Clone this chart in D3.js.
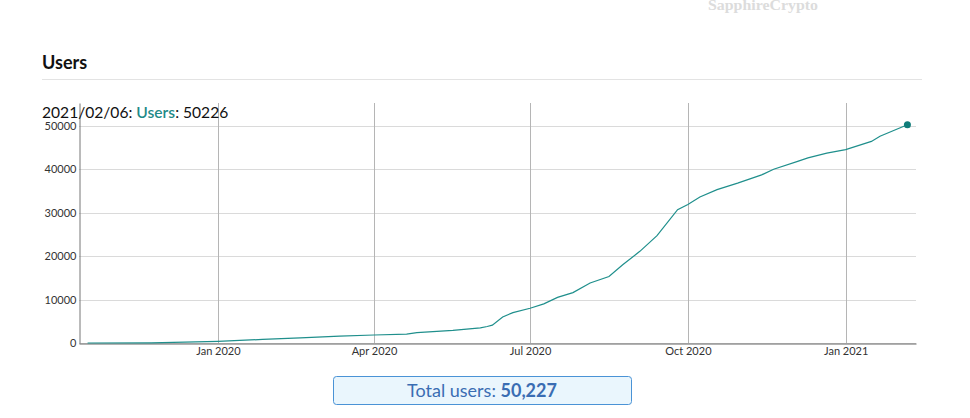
<!DOCTYPE html>
<html>
<head>
<meta charset="utf-8">
<script src="https://cdn.jsdelivr.net/npm/d3@7"></script>
<style>
  html, body { margin: 0; padding: 0; background: #fff; }
  svg { display: block; }
</style>
</head>
<body>
<svg id="chart" width="970" height="418"></svg>
<script>
const dates = [
  "2019-10-17","2019-11-23","2020-01-01","2020-01-27","2020-02-18","2020-03-12",
  "2020-04-01","2020-04-20","2020-04-26","2020-05-17","2020-06-02","2020-06-06",
  "2020-06-09","2020-06-15","2020-06-21","2020-07-01","2020-07-09","2020-07-17",
  "2020-07-26","2020-08-05","2020-08-16","2020-08-24","2020-09-03","2020-09-13",
  "2020-09-25","2020-10-01","2020-10-08","2020-10-18","2020-10-30","2020-11-13",
  "2020-11-20","2020-12-04","2020-12-10","2020-12-21","2021-01-01","2021-01-16",
  "2021-01-21","2021-02-06"
];
const users = [
  0, 20, 370, 830, 1200, 1600,
  1840, 2050, 2370, 2900, 3500, 3800,
  4100, 6000, 7000, 8000, 9000, 10500,
  11600, 13800, 15300, 18000, 21100, 24700,
  30700, 31900, 33600, 35300, 36800, 38700,
  40000, 41800, 42600, 43700, 44500, 46400,
  47600, 50226
];
const yTicks = [0, 10000, 20000, 30000, 40000, 50000];
const xTickDates = ["2020-01-01","2020-04-01","2020-07-01","2020-10-01","2021-01-01"];
const xDomain = ["2019-10-12","2021-02-11"];
const totalUsers = 50227;
const seriesName = "Users";

(function () {
const parse = d3.timeParse("%Y-%m-%d");
const data = dates.map((d, i) => ({ date: parse(d), value: users[i] }));

const svg = d3.select("#chart");
const font = "Lato, 'Open Sans', sans-serif";
const pLeft = 79, pRight = 916, pTop = 103, pBottom = 343;

const x = d3.scaleTime().domain(xDomain.map(parse)).range([pLeft, pRight]);
const y = d3.scaleLinear().domain([0, d3.max(users) * 1.1]).range([pBottom, pTop]);

// watermark
svg.append("text").attr("x", 708).attr("y", 9.5)
  .attr("font-family", "'Liberation Serif', 'DejaVu Serif', serif")
  .attr("font-weight", "bold").attr("font-size", 14)
  .attr("textLength", 110).attr("lengthAdjust", "spacingAndGlyphs")
  .attr("fill", "#dcdcdc").text("SapphireCrypto");

// title
svg.append("text").attr("x", 42).attr("y", 69)
  .attr("font-family", font).attr("font-weight", "bold").attr("font-size", 18)
  .attr("fill", "#111").text("Users");
svg.append("line").attr("x1", 42).attr("x2", 922).attr("y1", 79.5).attr("y2", 79.5)
  .attr("stroke", "#e3e3e3").attr("stroke-width", 1);

// horizontal grid
svg.append("g").selectAll("line").data(yTicks).join("line")
  .attr("x1", pLeft).attr("x2", pRight)
  .attr("y1", d => Math.round(y(d)) + 0.5).attr("y2", d => Math.round(y(d)) + 0.5)
  .attr("stroke", "#dadada");

// vertical grid
const xTicks = xTickDates.map(parse);
svg.append("g").selectAll("line").data(xTicks).join("line")
  .attr("x1", d => Math.round(x(d)) + 0.5).attr("x2", d => Math.round(x(d)) + 0.5)
  .attr("y1", pTop).attr("y2", pBottom)
  .attr("stroke", "#b5b5b5");

// y axis
const yAxis = d3.axisLeft(y).tickValues(yTicks).tickSize(0).tickPadding(3).tickFormat(d3.format("d"));
const gy = svg.append("g").attr("transform", `translate(${pLeft + 0.5},0)`).call(yAxis);
gy.select(".domain").attr("stroke", "#777");
gy.selectAll("text").attr("font-family", font).attr("font-size", 11).attr("fill", "#333");

// x axis
const xAxis = d3.axisBottom(x).tickValues(xTicks).tickSize(0).tickPadding(4).tickFormat(d3.timeFormat("%b %Y"));
const gx = svg.append("g").attr("transform", `translate(0,${pBottom + 0.5})`).call(xAxis);
gx.select(".domain").attr("stroke", "#666");
gx.selectAll("text").attr("font-family", font).attr("font-size", 11).attr("fill", "#333");

// line
const line = d3.line().x(d => x(d.date)).y(d => y(d.value));
svg.append("path").datum(data).attr("d", line)
  .attr("fill", "none").attr("stroke", "#1f8f8c").attr("stroke-width", 1.2);

const last = data[data.length - 1];
svg.append("circle").attr("cx", x(last.date)).attr("cy", y(last.value)).attr("r", 3.5)
  .attr("fill", "#0f7d7a");

// legend
const fmtDate = d3.timeFormat("%Y/%m/%d");
const leg = svg.append("text").attr("x", 42).attr("y", 118)
  .attr("font-family", font).attr("font-size", 15.6).attr("fill", "#111");
leg.append("tspan").text(fmtDate(last.date) + ": ");
leg.append("tspan").attr("fill", "#1f8a88").attr("font-weight", 600).text(seriesName);
leg.append("tspan").text(": " + last.value);

// total box
svg.append("rect").attr("x", 333.5).attr("y", 376.5).attr("width", 298).attr("height", 28)
  .attr("rx", 3).attr("fill", "#eaf6fd").attr("stroke", "#4a93d6");
const tot = svg.append("text").attr("x", 482).attr("y", 397).attr("text-anchor", "middle")
  .attr("font-family", font).attr("font-size", 18).attr("fill", "#3a6db3");
tot.append("tspan").text("Total users: ");
tot.append("tspan").attr("font-weight", "bold").text(d3.format(",")(totalUsers));
})();
</script>
</body>
</html>
